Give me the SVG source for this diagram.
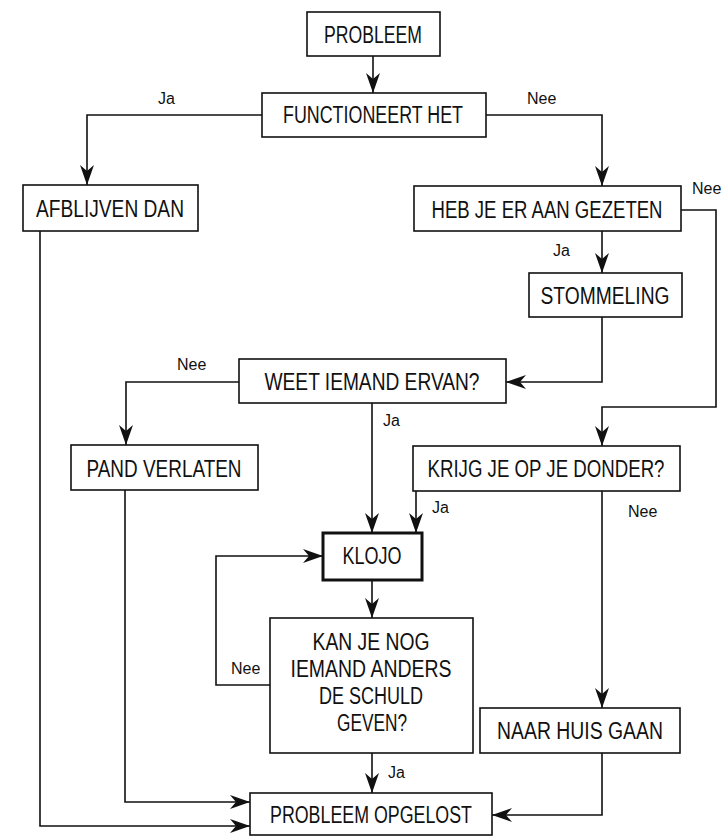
<svg xmlns="http://www.w3.org/2000/svg" width="725" height="836" viewBox="0 0 725 836">
  <style>
    .box { fill: #fff; stroke: #111; stroke-width: 1.6; }
    .bold { stroke-width: 3; }
    .t { font-family: "Liberation Sans", Arial, sans-serif; font-size: 23.5px; fill: #111; text-anchor: middle; }
    .l { font-family: "Liberation Sans", Arial, sans-serif; font-size: 16px; fill: #111; }
    .c { fill: none; stroke: #111; stroke-width: 1.6; marker-end: url(#head); }
  </style>
  <defs>
    <marker id="head" viewBox="-22 -9 24 18" refX="0" refY="0" markerWidth="24" markerHeight="18" markerUnits="userSpaceOnUse" orient="auto">
      <path d="M0,0 L-20,-7 L-14,0 L-20,7 Z" fill="#111"/>
    </marker>
  </defs>

  <!-- connectors -->
  <g id="connectors">
    <path class="c" d="M373,56 V93"/>
    <path class="c" d="M262,115 H87 V185"/>
    <path class="c" d="M486,115 H602 V186"/>
    <path class="c" d="M602,231 V273"/>
    <path class="c" d="M602,317 V382 H506"/>
    <path class="c" d="M681,210 H716 V407 H602 V446"/>
    <path class="c" d="M239,382 H126 V445"/>
    <path class="c" d="M372,403 V533"/>
    <path class="c" d="M416,491 V533"/>
    <path class="c" d="M602,491 V708"/>
    <path class="c" d="M372,580 V618"/>
    <path class="c" d="M270,685 H216 V556 H323"/>
    <path class="c" d="M372,753 V793"/>
    <path class="c" d="M125,490 V802 H250"/>
    <path class="c" d="M40,231 V826 H250"/>
    <path class="c" d="M602,753 V815 H492"/>
  </g>

  <!-- branch labels -->
  <g id="labels">
    <text class="l" x="158" y="104">Ja</text>
    <text class="l" x="527" y="104">Nee</text>
    <text class="l" x="692" y="194">Nee</text>
    <text class="l" x="553" y="256">Ja</text>
    <text class="l" x="177" y="370">Nee</text>
    <text class="l" x="383" y="426">Ja</text>
    <text class="l" x="432" y="513">Ja</text>
    <text class="l" x="628" y="517">Nee</text>
    <text class="l" x="231" y="674">Nee</text>
    <text class="l" x="388" y="778">Ja</text>
  </g>

  <!-- nodes -->
  <g id="probleem">
    <rect class="box" x="307" y="12" width="133" height="44"/>
    <text class="t" x="373" y="43" textLength="98" lengthAdjust="spacingAndGlyphs">PROBLEEM</text>
  </g>
  <g id="functioneert">
    <rect class="box" x="262" y="93" width="224" height="44"/>
    <text class="t" x="373" y="123" textLength="180" lengthAdjust="spacingAndGlyphs">FUNCTIONEERT HET</text>
  </g>
  <g id="afblijven">
    <rect class="box" x="23" y="185" width="175" height="46"/>
    <text class="t" x="110" y="217" textLength="148" lengthAdjust="spacingAndGlyphs">AFBLIJVEN DAN</text>
  </g>
  <g id="gezeten">
    <rect class="box" x="414" y="186" width="267" height="45"/>
    <text class="t" x="547" y="218" textLength="231" lengthAdjust="spacingAndGlyphs">HEB JE ER AAN GEZETEN</text>
  </g>
  <g id="stommeling">
    <rect class="box" x="529" y="273" width="153" height="44"/>
    <text class="t" x="605" y="304" textLength="129" lengthAdjust="spacingAndGlyphs">STOMMELING</text>
  </g>
  <g id="weet">
    <rect class="box" x="239" y="359" width="267" height="44"/>
    <text class="t" x="372" y="390" textLength="215" lengthAdjust="spacingAndGlyphs">WEET IEMAND ERVAN?</text>
  </g>
  <g id="pand">
    <rect class="box" x="71" y="445" width="187" height="45"/>
    <text class="t" x="164" y="477" textLength="155" lengthAdjust="spacingAndGlyphs">PAND VERLATEN</text>
  </g>
  <g id="donder">
    <rect class="box" x="413" y="446" width="267" height="45"/>
    <text class="t" x="546" y="477" textLength="237" lengthAdjust="spacingAndGlyphs">KRIJG JE OP JE DONDER?</text>
  </g>
  <g id="klojo">
    <rect class="box bold" x="323" y="533" width="99" height="47"/>
    <text class="t" x="372" y="564" textLength="59" lengthAdjust="spacingAndGlyphs">KLOJO</text>
  </g>
  <g id="schuld">
    <rect class="box" x="270" y="618" width="203" height="135"/>
    <text class="t" x="371" y="650" textLength="117" lengthAdjust="spacingAndGlyphs">KAN JE NOG</text>
    <text class="t" x="371" y="677" textLength="161" lengthAdjust="spacingAndGlyphs">IEMAND ANDERS</text>
    <text class="t" x="371" y="704" textLength="104" lengthAdjust="spacingAndGlyphs">DE SCHULD</text>
    <text class="t" x="372" y="731" textLength="70" lengthAdjust="spacingAndGlyphs">GEVEN?</text>
  </g>
  <g id="naarhuis">
    <rect class="box" x="480" y="708" width="200" height="45"/>
    <text class="t" x="580" y="739" textLength="166" lengthAdjust="spacingAndGlyphs">NAAR HUIS GAAN</text>
  </g>
  <g id="opgelost">
    <rect class="box" x="250" y="793" width="242" height="42"/>
    <text class="t" x="371" y="823" textLength="202" lengthAdjust="spacingAndGlyphs">PROBLEEM OPGELOST</text>
  </g>
</svg>
